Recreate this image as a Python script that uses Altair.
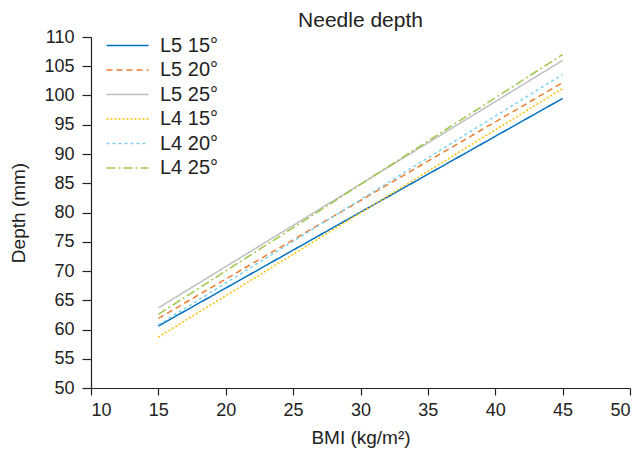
import altair as alt
import pandas as pd

series = ["L5 15°", "L5 20°", "L5 25°", "L4 15°", "L4 20°", "L4 25°"]
bmi = [15, 45]
depth_start = [60.6, 61.9, 63.7, 58.7, 60.8, 62.6]
depth_end = [99.5, 102.2, 106.0, 101.2, 103.6, 107.0]
colors = ["#0070C0", "#ED7D31", "#BFBFBF", "#FFC000", "#7FD0F2", "#9DC84A"]
dashes = [[1, 0], [6, 4], [1, 0], [2, 2], [3, 3], [9, 3, 2, 3]]

rows = []
for i, s in enumerate(series):
    rows.append({"series": s, "bmi": bmi[0], "depth": depth_start[i], "order": i})
    rows.append({"series": s, "bmi": bmi[1], "depth": depth_end[i], "order": i})
df = pd.DataFrame(rows)

font = "Liberation Sans"

legend = alt.Legend(
    title=None, orient="none", legendX=25, legendY=-3,
    symbolType="M-2,0L2,0", symbolSize=441, symbolStrokeWidth=1.5,
    labelFont=font, labelFontSize=20, labelColor="#222222",
    rowPadding=2.5, labelOffset=21, symbolOffset=0,
)

chart = alt.Chart(df).mark_line(strokeWidth=1.5).encode(
    x=alt.X("bmi:Q", scale=alt.Scale(domain=[10, 50], nice=False),
            axis=alt.Axis(values=list(range(10, 51, 5)), title="BMI (kg/m²)", grid=False,
                          tickSize=7, labelPadding=6, titlePadding=9)),
    y=alt.Y("depth:Q", scale=alt.Scale(domain=[50, 110], nice=False, zero=False),
            axis=alt.Axis(values=list(range(50, 111, 5)), title="Depth (mm)", grid=False,
                          tickSize=9, labelPadding=8, titlePadding=15)),
    color=alt.Color("series:N", scale=alt.Scale(domain=series, range=colors), legend=legend),
    strokeDash=alt.StrokeDash("series:N", scale=alt.Scale(domain=series, range=dashes), legend=legend),
    detail="series:N",
).properties(
    width=539, height=351,
    title=alt.TitleParams("Needle depth", font=font, fontSize=21, fontWeight="normal",
                          color="#222222", offset=-3),
    padding={"left": 83, "top": 29, "right": 6, "bottom": 60},
    autosize=alt.AutoSizeParams(type="none"),
).configure_axis(
    labelFont=font, labelFontSize=18, labelColor="#222222",
    titleFont=font, titleFontSize=19, titleFontWeight="normal", titleColor="#222222",
    domainColor="#222222", tickColor="#222222", domainWidth=1.2, tickWidth=1.2,
).configure_view(stroke=None)

chart.save("out.html", embed_options={"renderer": "svg", "actions": False})
